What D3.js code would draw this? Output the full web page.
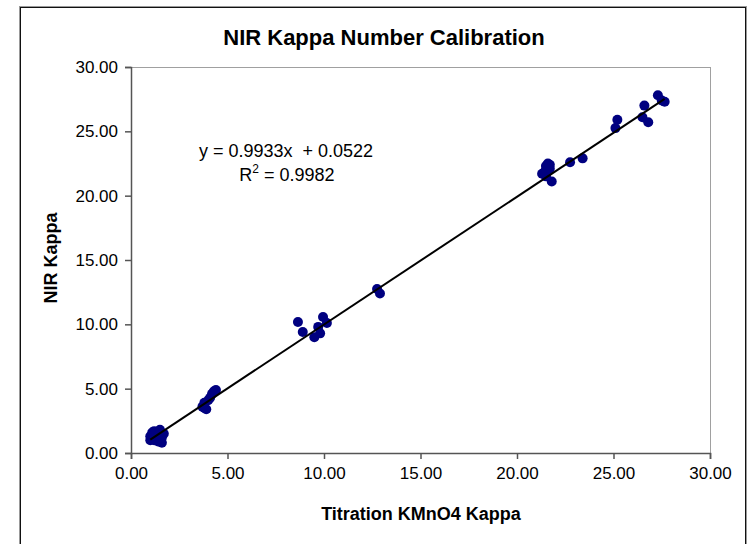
<!DOCTYPE html>
<html>
<head>
<meta charset="utf-8">
<script src="https://cdn.jsdelivr.net/npm/d3@7"></script>
<style>
  body { margin: 0; background: #fff; }
  text { font-family: "Liberation Sans", Arial, sans-serif; }
</style>
</head>
<body>
<div id="chart"></div>
<script>
// titration kappa (x) and NIR kappa (y)
var titration = [
  1.0, 1.1, 1.2, 1.3, 1.5, 1.6, 1.6, 1.4, 1.7, 1.2, 1.0, 1.5,
  3.7, 3.8, 3.9, 4.0, 4.1, 4.2, 4.3, 4.4, 3.8,
  8.65, 8.9, 9.5, 9.7, 9.95, 10.15, 9.8,
  12.75, 12.9,
  21.5, 21.6, 21.7, 21.4, 21.5, 21.6, 21.3, 21.8, 21.7, 21.5, 22.75, 23.4,
  25.2, 25.1, 26.6, 26.5, 26.8, 27.3, 27.65, 27.5
];
var nirKappa = [
  1.3, 1.6, 1.0, 1.4, 1.8, 1.2, 0.8, 0.9, 1.5, 1.7, 1.0, 1.1,
  3.6, 3.9, 3.4, 4.1, 4.3, 4.6, 4.8, 4.9, 3.5,
  10.18, 9.4, 9.0, 9.8, 10.57, 10.1, 9.3,
  12.74, 12.4,
  22.3, 22.5, 22.1, 21.8, 21.5, 21.9, 21.7, 21.1, 22.4, 22.0, 22.6, 22.9,
  25.9, 25.25, 27.0, 26.1, 25.7, 27.8, 27.3, 27.4
];

var slope = 0.9933;
var intercept = 0.0522;
var rSquared = 0.9982;

var tickValues = [0, 5, 10, 15, 20, 25, 30];

var svgWidth = 752;
var svgHeight = 544;

var margin = { top: 67, right: 42, bottom: 91, left: 131 };
var width = 710 - margin.left;
var height = 453 - margin.top;

var svg = d3.select("#chart")
  .append("svg")
  .attr("width", svgWidth)
  .attr("height", svgHeight);

// outer chart frame
svg.append("rect")
  .attr("x", 19.5).attr("y", 6.5)
  .attr("width", 727).attr("height", 560)
  .attr("fill", "none")
  .attr("stroke", "#999")
  .attr("stroke-width", 1);
svg.append("rect")
  .attr("x", 20.5).attr("y", 7.5)
  .attr("width", 725).attr("height", 560)
  .attr("fill", "none")
  .attr("stroke", "#111")
  .attr("stroke-width", 1);

var chartGroup = svg.append("g")
  .attr("transform", `translate(${margin.left}, ${margin.top})`);

var xScale = d3.scaleLinear().domain([0, 30]).range([0, width]);
var yScale = d3.scaleLinear().domain([0, 30]).range([height, 0]);

// plot area border (top / right)
chartGroup.append("rect")
  .attr("x", 0.5).attr("y", 0.5)
  .attr("width", width).attr("height", height)
  .attr("fill", "none")
  .attr("stroke", "#a0a0a0");

var bottomAxis = d3.axisBottom(xScale)
  .tickValues(tickValues)
  .tickSize(6)
  .tickPadding(8)
  .tickFormat(d3.format(".2f"));

var leftAxis = d3.axisLeft(yScale)
  .tickValues(tickValues)
  .tickSize(6)
  .tickPadding(7)
  .tickFormat(d3.format(".2f"));

var xAxis = chartGroup.append("g")
  .attr("transform", `translate(0, ${height})`)
  .call(bottomAxis);

var yAxis = chartGroup.append("g")
  .call(leftAxis);

[xAxis, yAxis].forEach(function(ax) {
  ax.select(".domain").attr("stroke", "#555").attr("stroke-width", 1.5);
  ax.selectAll(".tick line").attr("stroke", "#555").attr("stroke-width", 1.5);
  ax.selectAll(".tick text")
    .attr("fill", "#000")
    .style("font-size", "17px")
    .style("font-family", "'Liberation Sans', Arial, sans-serif");
});

// data points
var points = titration.map(function(x, i) { return { x: x, y: nirKappa[i] }; });

chartGroup.selectAll("circle")
  .data(points)
  .enter()
  .append("circle")
  .attr("cx", d => xScale(d.x))
  .attr("cy", d => yScale(d.y))
  .attr("r", 5)
  .attr("fill", "#000080");

// linear trend line
var xMin = d3.min(titration);
var xMax = d3.max(titration);
chartGroup.append("line")
  .attr("x1", xScale(xMin))
  .attr("y1", yScale(slope * xMin + intercept))
  .attr("x2", xScale(xMax))
  .attr("y2", yScale(slope * xMax + intercept))
  .attr("stroke", "#000")
  .attr("stroke-width", 2);

// equation label
svg.append("text")
  .attr("x", 286)
  .attr("y", 157)
  .attr("text-anchor", "middle")
  .style("font-size", "18px")
  .style("white-space", "pre")
  .text(`y = ${slope}x  + ${intercept}`);

var r2 = svg.append("text")
  .attr("x", 287)
  .attr("y", 181)
  .attr("text-anchor", "middle")
  .style("font-size", "18px");
r2.append("tspan").text("R");
r2.append("tspan").attr("dy", -8).style("font-size", "12px").text("2");
r2.append("tspan").attr("dy", 8).text(` = ${rSquared}`);

// title
svg.append("text")
  .attr("x", 384)
  .attr("y", 45)
  .attr("text-anchor", "middle")
  .style("font-size", "22px")
  .style("font-weight", "bold")
  .text("NIR Kappa Number Calibration");

// axis titles
svg.append("text")
  .attr("x", 421)
  .attr("y", 520)
  .attr("text-anchor", "middle")
  .style("font-size", "18px")
  .style("font-weight", "bold")
  .text("Titration KMnO4 Kappa");

svg.append("text")
  .attr("transform", "rotate(-90)")
  .attr("x", -258)
  .attr("y", 57)
  .attr("text-anchor", "middle")
  .style("font-size", "18px")
  .style("font-weight", "bold")
  .text("NIR Kappa");
</script>
</body>
</html>
